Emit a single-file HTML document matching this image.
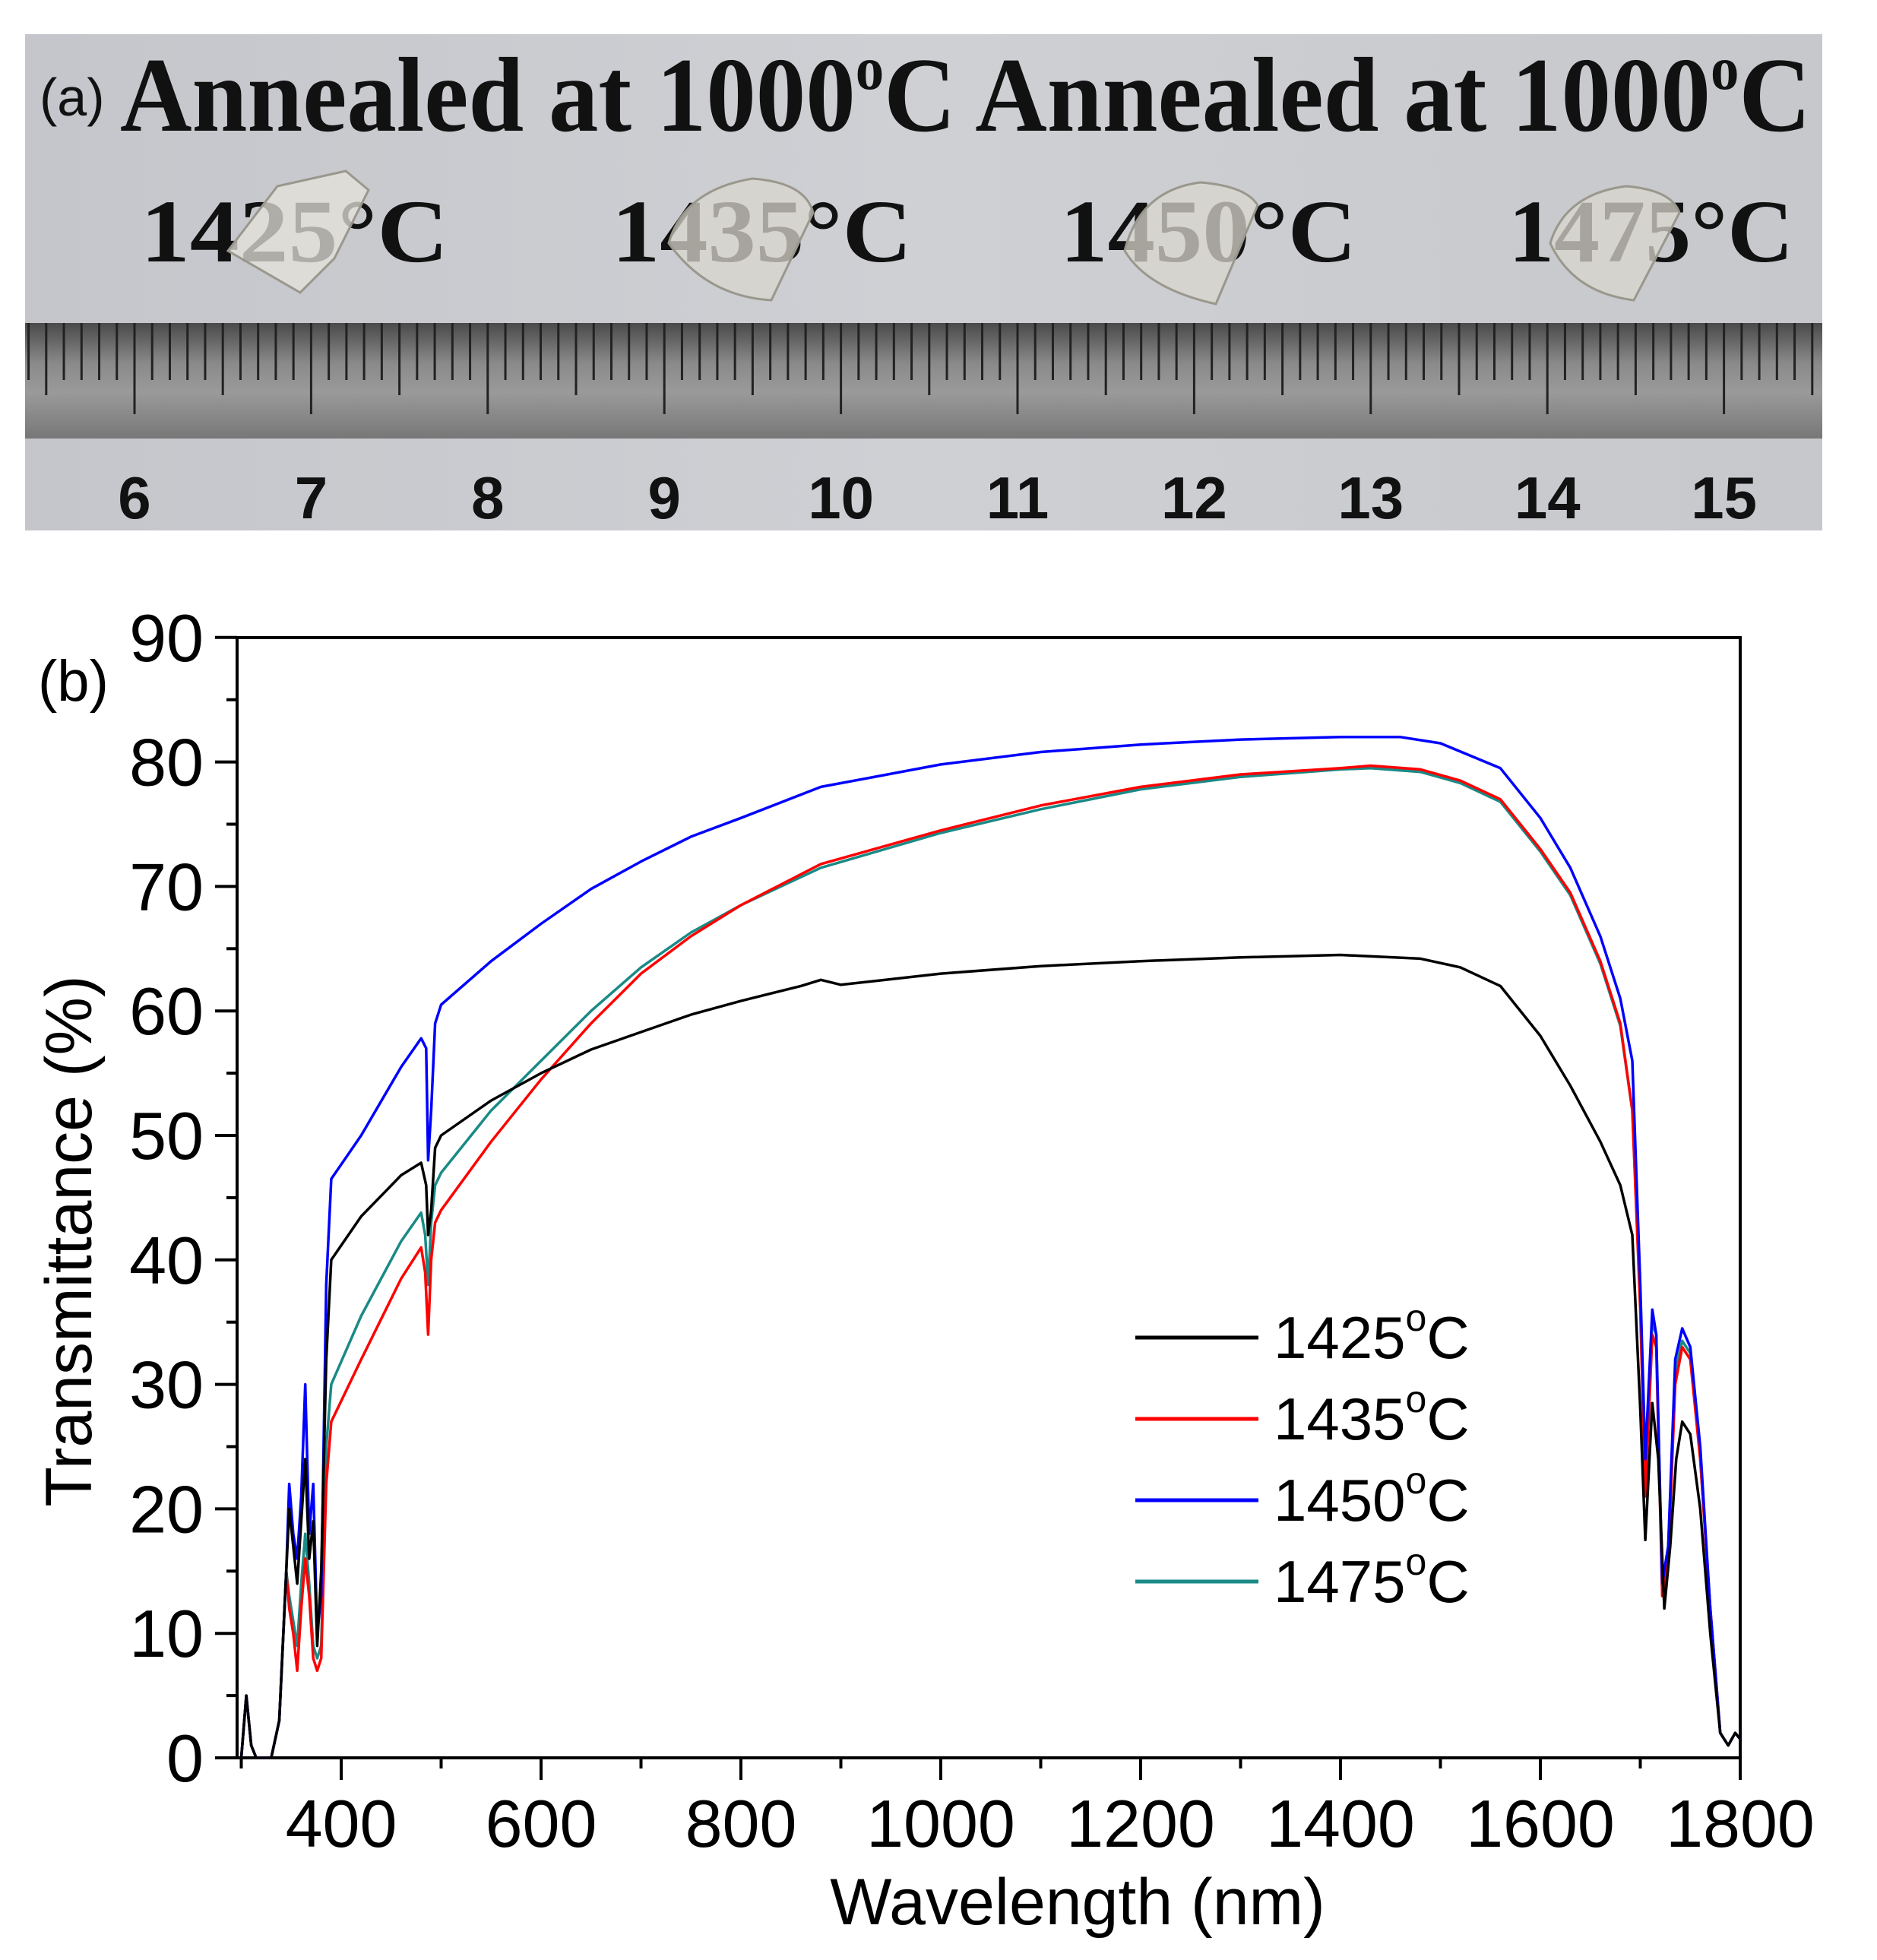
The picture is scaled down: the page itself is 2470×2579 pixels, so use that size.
<!DOCTYPE html>
<html><head><meta charset="utf-8"><style>
html,body{margin:0;padding:0;background:#fff;}
svg{display:block;}
</style></head><body>
<svg id="s" width="2470" height="2579" viewBox="0 0 2470 2579" xmlns="http://www.w3.org/2000/svg">
<defs>
<linearGradient id="rg" x1="0" y1="0" x2="0" y2="1">
<stop offset="0" stop-color="#4a4a4a"/><stop offset="0.35" stop-color="#8a8a8a"/><stop offset="0.6" stop-color="#9a9a9a"/><stop offset="1" stop-color="#777"/>
</linearGradient>
<linearGradient id="pg" x1="0" y1="0" x2="1" y2="0">
<stop offset="0" stop-color="#c4c6cb"/><stop offset="0.5" stop-color="#ced0d4"/><stop offset="1" stop-color="#c6c8cc"/>
</linearGradient>
</defs>
<rect x="33" y="45" width="2365" height="653" fill="url(#pg)"/>
<rect x="33" y="425" width="2365" height="152" fill="url(#rg)"/>
<g id="ruler" stroke="#222" stroke-width="3"></g>
<g font-family="Liberation Sans, sans-serif" font-weight="bold" font-size="78" fill="#111" text-anchor="middle" id="rnum"></g>
<text x="52" y="152" font-family="Liberation Sans, sans-serif" font-size="70" fill="#111">(a)</text>
<text x="158" y="172" font-family="Liberation Serif, serif" font-weight="bold" font-size="140" fill="#111" textLength="2225" lengthAdjust="spacingAndGlyphs">Annealed at 1000<tspan font-size="80" dy="-55">o</tspan><tspan dy="55">C Annealed at 1000</tspan><tspan font-size="80" dy="-55">o</tspan><tspan dy="55">C</tspan></text>
<g font-family="Liberation Serif, serif" font-weight="bold" font-size="118" fill="#111">
<text x="185" y="344" textLength="405" lengthAdjust="spacingAndGlyphs">1425°C</text>
<text x="805" y="344" textLength="395" lengthAdjust="spacingAndGlyphs">1435°C</text>
<text x="1395" y="344" textLength="390" lengthAdjust="spacingAndGlyphs">1450°C</text>
<text x="1985" y="344" textLength="375" lengthAdjust="spacingAndGlyphs">1475°C</text>
</g>
<g fill="#d8d6cc" fill-opacity="0.75" stroke="#9a978c" stroke-width="3">
<path d="M300 330 L365 245 L455 225 L485 250 L440 340 L395 385 Z" fill="#e4e2da"/>
<path d="M880 320 Q900 250 990 235 Q1060 240 1070 280 L1015 395 Q930 390 880 320 Z"/>
<path d="M1480 330 Q1500 250 1580 240 Q1640 245 1655 270 L1600 400 Q1510 380 1480 330 Z"/>
<path d="M2040 320 Q2060 255 2140 245 Q2200 250 2210 280 L2150 395 Q2070 385 2040 320 Z"/>
</g>
<rect x="312" y="839" width="1978" height="1474" fill="none" stroke="#000" stroke-width="4"/>
<g id="ticks" stroke="#000" stroke-width="4"></g>
<g id="labels" font-family="Liberation Sans, sans-serif" font-size="88" fill="#000"></g>
<text x="50" y="922" font-family="Liberation Sans, sans-serif" font-size="76" fill="#000">(b)</text>
<text x="1418" y="2532" text-anchor="middle" font-family="Liberation Sans, sans-serif" font-size="86">Wavelength (nm)</text>
<text transform="translate(120,1633) rotate(-90)" text-anchor="middle" font-family="Liberation Sans, sans-serif" font-size="86">Transmittance (%)</text>
<g id="curves" fill="none" stroke-width="3.5" stroke-linejoin="round"></g>
<g stroke-width="5">
<line x1="1494" y1="1760" x2="1656" y2="1760" stroke="#000"/>
<line x1="1494" y1="1867" x2="1656" y2="1867" stroke="#f00"/>
<line x1="1494" y1="1974" x2="1656" y2="1974" stroke="#00f"/>
<line x1="1494" y1="2081" x2="1656" y2="2081" stroke="#1a8a86"/>
</g>
<g font-family="Liberation Sans, sans-serif" font-size="78" fill="#000">
<text x="1676" y="1787">1425<tspan font-size="50" dy="-36">o</tspan><tspan dy="36">C</tspan></text>
<text x="1676" y="1894">1435<tspan font-size="50" dy="-36">o</tspan><tspan dy="36">C</tspan></text>
<text x="1676" y="2001">1450<tspan font-size="50" dy="-36">o</tspan><tspan dy="36">C</tspan></text>
<text x="1676" y="2108">1475<tspan font-size="50" dy="-36">o</tspan><tspan dy="36">C</tspan></text>
</g>
</svg>
<script>
var NS="http://www.w3.org/2000/svg";
function el(p,t,a,txt){var e=document.createElementNS(NS,t);for(var k in a)e.setAttribute(k,a[k]);if(txt!=null)e.textContent=txt;document.getElementById(p).appendChild(e);return e;}
function X(l){return 317.5+(l-300)*1.315;}
function Y(t){return 2313-t*16.38;}
var sp=23.24;
for(var i=-20;i<=120;i++){var x=177+i*sp;if(x<35||x>2396)continue;var len=(i%10==0)?120:(i%5==0?95:75);el("ruler","line",{x1:x,y1:425,x2:x,y2:425+len});}
for(var c=6;c<=15;c++){el("rnum","text",{x:177+(c-6)*sp*10,y:682},String(c));}
for(var l=300;l<=1800;l+=100){var maj=(l%200==0);el("ticks","line",{x1:X(l),y1:2313,x2:X(l),y2:2313+(maj?29:14)});
 if(maj)el("labels","text",{x:X(l),y:2430,"text-anchor":"middle"},String(l));}
for(var t=0;t<=90;t+=5){var maj=(t%10==0);el("ticks","line",{x1:312,y1:Y(t),x2:312-(maj?29:14),y2:Y(t)});
 if(maj)el("labels","text",{x:268,y:Y(t)+31,"text-anchor":"end"},String(t));}
var low=[[300,0],[305,5],[310,1],[315,0],[330,0],[338,3],[345,15]];
var data={
"#000":low.concat([[348,20],[352,17],[356,14],[360,19],[364,24],[368,16],[372,19],[376,9],[380,15],[385,32],[390,40],[420,43.5],[460,46.8],[480,47.8],[485,46],[487,42],[490,44],[494,49],[500,50],[550,52.8],[600,55],[650,56.9],[700,58.3],[750,59.7],[800,60.8],[860,62],[880,62.5],[900,62.1],[1000,63],[1100,63.6],[1200,64],[1300,64.3],[1400,64.5],[1480,64.2],[1520,63.5],[1560,62],[1600,58],[1630,54],[1660,49.5],[1680,46],[1692,42],[1700,28],[1705,17.5],[1712,28.5],[1718,24],[1724,12],[1730,17],[1736,24],[1742,27],[1750,26],[1760,20],[1770,10],[1780,2],[1788,1],[1795,2],[1800,1.5]]),
"#f00":low.concat([[348,12],[352,10],[356,7],[360,12],[364,16],[368,13],[372,8],[376,7],[380,8],[385,22],[390,27],[420,32],[460,38.5],[480,41],[484,39],[487,34],[490,40],[494,43],[500,44],[550,49.5],[600,54.5],[650,59],[700,63],[750,66],[800,68.5],[880,71.8],[1000,74.5],[1100,76.5],[1200,78],[1300,79],[1400,79.5],[1430,79.7],[1480,79.4],[1520,78.5],[1560,77],[1600,73],[1630,69.5],[1660,64],[1680,59],[1692,52],[1700,36],[1705,21],[1712,34],[1716,33],[1722,13],[1728,16],[1735,30],[1742,33],[1750,32],[1760,24],[1770,12],[1780,2],[1788,1],[1795,2],[1800,1.5]]),
"#1a8a86":low.concat([[348,13],[352,11],[356,9],[360,14],[364,18],[368,14],[372,9],[376,8],[380,9],[385,25],[390,30],[420,35.5],[460,41.5],[480,43.8],[484,42],[487,38],[490,43],[494,46],[500,47],[550,52],[600,56],[650,60],[700,63.5],[750,66.3],[800,68.5],[880,71.5],[1000,74.3],[1100,76.2],[1200,77.8],[1300,78.8],[1400,79.4],[1430,79.5],[1480,79.2],[1520,78.3],[1560,76.8],[1600,72.8],[1630,69.3],[1660,63.8],[1680,58.8],[1692,52],[1700,37],[1705,22],[1712,35],[1716,34],[1722,14],[1728,17],[1735,31],[1742,33.5],[1750,32.5],[1760,24],[1770,12],[1780,2],[1788,1],[1795,2],[1800,1.5]]),
"#00f":low.concat([[348,22],[352,18],[356,16],[360,21],[364,30],[368,18],[372,22],[376,10],[380,13],[385,38],[390,46.5],[420,50],[460,55.5],[480,57.8],[485,57],[487,48],[490,52],[494,59],[500,60.5],[550,64],[600,67],[650,69.8],[700,72],[750,74],[800,75.5],[880,78],[1000,79.8],[1100,80.8],[1200,81.4],[1300,81.8],[1400,82],[1460,82],[1500,81.5],[1530,80.5],[1560,79.5],[1600,75.5],[1630,71.5],[1660,66],[1680,61],[1692,56],[1700,38],[1705,24],[1712,36],[1716,34],[1722,14],[1728,17],[1735,32],[1742,34.5],[1750,33],[1760,25],[1770,12],[1780,2],[1788,1],[1795,2],[1800,1.5]])
};
["#1a8a86","#f00","#00f","#000"].forEach(function(c){
 var pts=data[c].map(function(p){return X(p[0]).toFixed(1)+","+Y(p[1]).toFixed(1);}).join(" ");
 el("curves","polyline",{points:pts,stroke:c});
});
</script>
</body></html>
